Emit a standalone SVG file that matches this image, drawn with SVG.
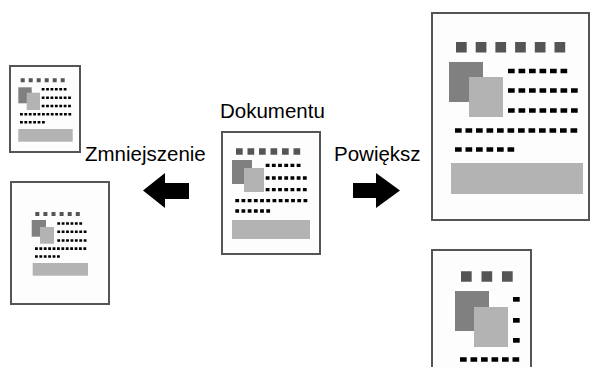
<svg xmlns="http://www.w3.org/2000/svg" width="592" height="367" viewBox="0 0 592 367">
<style>
.page{fill:#fdfdfd;stroke:#555;stroke-width:2}
.sq{stroke:#555;fill:none}
.dk{fill:#808080}
.lt{fill:#b3b3b3}
.dot{stroke:#000;fill:none}
.dL{stroke-width:4.7;stroke-dasharray:6.7 3.8}
.dM{stroke-width:3.3;stroke-dasharray:3.8 2.4}
.dS{stroke-width:2.6;stroke-dasharray:2.8 1.6}
.lbl{font-family:"Liberation Sans",Arial,sans-serif;font-size:20.5px;fill:#000}
.arrow{fill:#000}
</style>
<rect width="592" height="367" fill="#fff"/>

<g id="page-small-top">
<rect class="page" x="10" y="66" width="70" height="86"/>
<line class="sq" x1="20.7" y1="80.3" x2="64.7" y2="80.3" stroke-width="4" stroke-dasharray="4 4"/>
<rect class="dk" x="18.3" y="87.3" width="13.4" height="16"/>
<rect class="lt" x="26.7" y="92.7" width="13.3" height="17.3"/>
<line class="dot dS" x1="41.7" y1="89.3" x2="66.5" y2="89.3"/>
<line class="dot dS" x1="41.7" y1="97.7" x2="70.9" y2="97.7"/>
<line class="dot dS" x1="41.7" y1="106" x2="70.9" y2="106"/>
<line class="dot dS" x1="20" y1="114.3" x2="71.2" y2="114.3"/>
<line class="dot dS" x1="20" y1="122.3" x2="44.8" y2="122.3"/>
<rect class="lt" x="18.3" y="129" width="54.4" height="12.7"/>
</g>

<g id="page-reduced">
<rect class="page" x="11" y="182" width="98" height="122"/>
<line class="sq" x1="35.3" y1="214" x2="79.8" y2="214" stroke-width="4" stroke-dasharray="4 4.1"/>
<rect class="dk" x="31.7" y="220" width="14.3" height="16.7"/>
<rect class="lt" x="40" y="227" width="14" height="16.7"/>
<line class="dot dS" x1="57.3" y1="223.5" x2="82.1" y2="223.5"/>
<line class="dot dS" x1="57.3" y1="231.8" x2="86.5" y2="231.8"/>
<line class="dot dS" x1="57.3" y1="240.5" x2="86.5" y2="240.5"/>
<line class="dot dS" x1="35" y1="248.6" x2="86.2" y2="248.6"/>
<line class="dot dS" x1="35" y1="256.5" x2="59.8" y2="256.5"/>
<rect class="lt" x="32.7" y="263" width="55.3" height="12.7"/>
</g>

<g id="page-original">
<rect class="page" x="222" y="132" width="98" height="122"/>
<line class="sq" x1="236" y1="151.5" x2="300.2" y2="151.5" stroke-width="6.7" stroke-dasharray="6.7 4.8"/>
<rect class="dk" x="232" y="160" width="20" height="24"/>
<rect class="lt" x="244" y="168" width="20" height="24"/>
<line class="dot dM" x1="265.7" y1="165.3" x2="300.5" y2="165.3"/>
<line class="dot dM" x1="265.7" y1="178" x2="306.7" y2="178"/>
<line class="dot dM" x1="265.7" y1="189.7" x2="306.7" y2="189.7"/>
<line class="dot dM" x1="235.3" y1="200.7" x2="307.3" y2="200.7"/>
<line class="dot dM" x1="235.3" y1="211" x2="270.1" y2="211"/>
<rect class="lt" x="232" y="220" width="78" height="19"/>
</g>

<g id="page-enlarged">
<rect class="page" x="432" y="13" width="157" height="207"/>
<line class="sq" x1="456" y1="47.2" x2="565.2" y2="47.2" stroke-width="10.4" stroke-dasharray="10.7 9"/>
<rect class="dk" x="449" y="62" width="34" height="40"/>
<rect class="lt" x="469" y="77" width="34" height="40"/>
<line class="dot dL" x1="508" y1="71" x2="567.2" y2="71"/>
<line class="dot dL" x1="508" y1="90.5" x2="577.7" y2="90.5"/>
<line class="dot dL" x1="508" y1="110.5" x2="577.7" y2="110.5"/>
<line class="dot dL" x1="455" y1="130.5" x2="577.2" y2="130.5"/>
<line class="dot dL" x1="455" y1="149.5" x2="514.2" y2="149.5"/>
<rect class="lt" x="451" y="163" width="132" height="31"/>
</g>

<g id="page-enlarged-cropped">
<rect class="page" x="432" y="250" width="99" height="130"/>
<line class="sq" x1="461" y1="276.5" x2="513.2" y2="276.5" stroke-width="10.7" stroke-dasharray="10.7 9.8"/>
<rect class="dk" x="455" y="291" width="34" height="40"/>
<rect class="lt" x="474" y="307" width="34" height="40"/>
<rect x="513" y="297" width="6.7" height="4.7" fill="#000"/>
<rect x="513" y="318" width="6.7" height="4.7" fill="#000"/>
<rect x="513" y="338" width="6.7" height="4.7" fill="#000"/>
<line class="dot dL" x1="460" y1="359.5" x2="519.2" y2="359.5"/>
</g>

<g id="connectors">
<polygon class="arrow" points="143,190.5 165,173 165,183 189,183 189,199 165,199 165,208"/>
<polygon class="arrow" points="400,190.5 376,173 376,183 353,183 353,198 376,198 376,208"/>
</g>

<g id="labels">
<text class="lbl" x="220" y="118">Dokumentu</text>
<text class="lbl" x="85" y="161">Zmniejszenie</text>
<text class="lbl" x="334" y="161">Powiększ</text>
</g>
</svg>
